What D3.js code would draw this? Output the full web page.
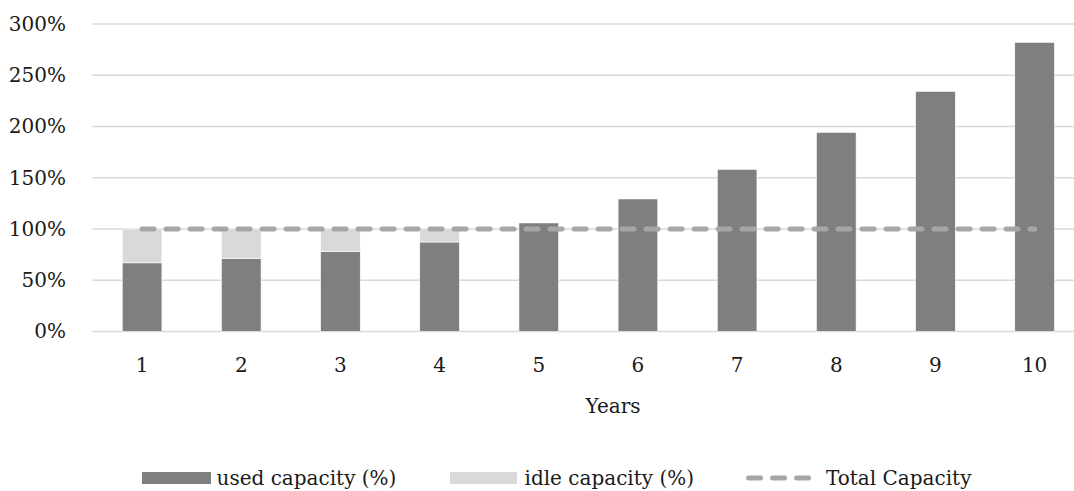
<!DOCTYPE html>
<html>
<head>
<meta charset="utf-8">
<script src="https://cdn.jsdelivr.net/npm/d3@7"></script>
<style>
  html, body { margin: 0; padding: 0; background: #fff; }
  svg { display: block; }
  text { font-family: "DejaVu Serif", "Liberation Serif", serif; fill: #1a1a1a; }
</style>
</head>
<body>
<svg id="chart" width="1074" height="491"></svg>
<script>
// Capacity use over a ten-year horizon (shares of total capacity)
const years = ["1", "2", "3", "4", "5", "6", "7", "8", "9", "10"];
const usedCapacity = [0.67, 0.714, 0.779, 0.873, 1.059, 1.293, 1.582, 1.943, 2.343, 2.821];
const idleCapacity = [0.33, 0.286, 0.221, 0.127, 0, 0, 0, 0, 0, 0];
const totalCapacity = [1, 1, 1, 1, 1, 1, 1, 1, 1, 1];
const yTicks = [0, 0.5, 1, 1.5, 2, 2.5, 3];
const seriesNames = ["used capacity (%)", "idle capacity (%)", "Total Capacity"];

const colors = { used: "#7f7f7f", idle: "#d9d9d9", total: "#a6a6a6", grid: "#d9d9d9" };

const svg = d3.select("#chart");
const plot = { left: 92.5, right: 1084.2, top: 24, bottom: 331.5 };

const x = d3.scaleBand()
  .domain(years)
  .range([plot.left, plot.right])
  .paddingInner(0.6)
  .paddingOuter(0.3);

const y = d3.scaleLinear()
  .domain([0, 3])
  .range([plot.bottom, plot.top]);

// horizontal gridlines
svg.append("g")
  .selectAll("line")
  .data(yTicks)
  .join("line")
  .attr("x1", plot.left)
  .attr("x2", plot.right)
  .attr("y1", d => y(d))
  .attr("y2", d => y(d))
  .attr("stroke", colors.grid)
  .attr("stroke-width", 1.4);

// y axis labels
const yAxis = d3.axisLeft(y)
  .tickValues(yTicks)
  .tickFormat(d3.format(".0%"))
  .tickSize(0)
  .tickPadding(0);
const yg = svg.append("g")
  .attr("transform", "translate(66,0)")
  .call(yAxis);
yg.select(".domain").remove();
yg.selectAll("text")
  .attr("font-size", 20)
  .attr("font-family", "DejaVu Serif")
  .attr("fill", "#1a1a1a");

// stacked bars: used capacity below, idle capacity on top
const stacked = years.map((yr, i) => ({ yr, used: usedCapacity[i], idle: idleCapacity[i] }));

svg.append("g")
  .selectAll("rect.used")
  .data(stacked)
  .join("rect")
  .attr("class", "used")
  .attr("x", d => x(d.yr))
  .attr("width", x.bandwidth())
  .attr("y", d => y(d.used))
  .attr("height", d => y(0) - y(d.used))
  .attr("fill", colors.used)
  .attr("stroke", "#fff")
  .attr("stroke-width", 0.6);

svg.append("g")
  .selectAll("rect.idle")
  .data(stacked.filter(d => d.idle > 0))
  .join("rect")
  .attr("class", "idle")
  .attr("x", d => x(d.yr))
  .attr("width", x.bandwidth())
  .attr("y", d => y(d.used + d.idle))
  .attr("height", d => y(d.used) - y(d.used + d.idle))
  .attr("fill", colors.idle)
  .attr("stroke", "#fff")
  .attr("stroke-width", 0.6);

// total capacity reference line
const line = d3.line()
  .x((d, i) => x(years[i]) + x.bandwidth() / 2)
  .y(d => y(d));

svg.append("path")
  .datum(totalCapacity)
  .attr("d", line)
  .attr("fill", "none")
  .attr("stroke", colors.total)
  .attr("stroke-width", 5)
  .attr("stroke-dasharray", "12 12")
  .attr("stroke-linecap", "round");

// x axis labels
const xAxis = d3.axisBottom(x).tickSize(0).tickPadding(0);
const xg = svg.append("g")
  .attr("transform", "translate(0,358)")
  .call(xAxis);
xg.select(".domain").remove();
xg.selectAll("text")
  .attr("font-size", 20)
  .attr("font-family", "DejaVu Serif")
  .attr("fill", "#1a1a1a")
  .attr("dy", "0.71em");

svg.append("text")
  .attr("x", 613)
  .attr("y", 413)
  .attr("text-anchor", "middle")
  .attr("font-size", 20)
  .text("Years");

// legend
const legend = svg.append("g").attr("font-size", 20);
const legendY = 478;

legend.append("rect")
  .attr("x", 142).attr("y", legendY - 6)
  .attr("width", 69).attr("height", 12)
  .attr("fill", colors.used);
legend.append("text")
  .attr("x", 216.5).attr("y", legendY)
  .attr("dy", "0.35em")
  .text(seriesNames[0]);

legend.append("rect")
  .attr("x", 450).attr("y", legendY - 6)
  .attr("width", 67).attr("height", 12)
  .attr("fill", colors.idle);
legend.append("text")
  .attr("x", 524.5).attr("y", legendY)
  .attr("dy", "0.35em")
  .text(seriesNames[1]);

legend.append("line")
  .attr("x1", 748.5).attr("x2", 809.5)
  .attr("y1", legendY).attr("y2", legendY)
  .attr("stroke", colors.total)
  .attr("stroke-width", 5)
  .attr("stroke-dasharray", "12 12")
  .attr("stroke-linecap", "round");
legend.append("text")
  .attr("x", 826).attr("y", legendY)
  .attr("dy", "0.35em")
  .text(seriesNames[2]);
</script>
</body>
</html>
